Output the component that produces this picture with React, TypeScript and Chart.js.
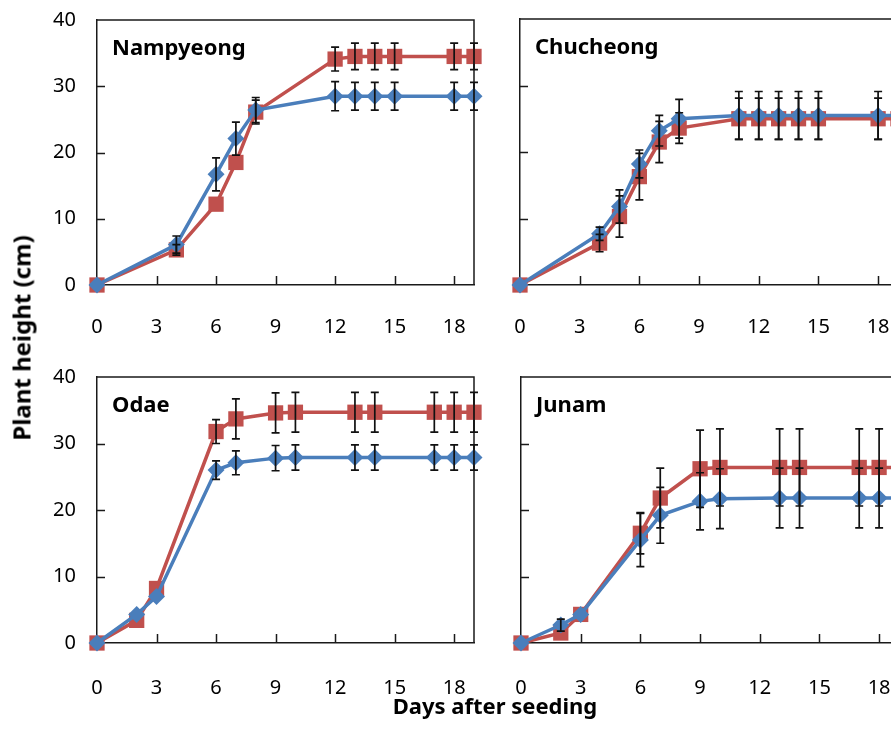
import React, { useEffect, useRef } from "react";
import { Chart, registerables } from "chart.js";

Chart.register(...registerables);

// ---- Data ----
const titles = ["Nampyeong", "Chucheong", "Odae", "Junam"];
const xTickValues = [0, 3, 6, 9, 12, 15, 18];
const yTickValues = [0, 10, 20, 30, 40];

const nampDays = [0, 4, 6, 7, 8, 12, 13, 14, 15, 18, 19];
const nampBlue = [0, 6.1, 16.7, 22.1, 26.4, 28.5, 28.5, 28.5, 28.5, 28.5, 28.5];
const nampBlueErr = [0, 1.3, 2.5, 2.5, 1.9, 2.2, 2.1, 2.1, 2.1, 2.1, 2.1];
const nampRed = [0, 5.3, 12.2, 18.5, 26.1, 34.1, 34.5, 34.5, 34.5, 34.5, 34.5];
const nampRedErr = [0, 0.8, 0, 0, 1.8, 1.8, 2.0, 2.0, 2.0, 2.0, 2.0];

const chuDays = [0, 4, 5, 6, 7, 8, 11, 12, 13, 14, 15, 18, 19];
const chuBlue = [0, 7.7, 11.8, 18.2, 23.2, 25.0, 25.5, 25.5, 25.5, 25.5, 25.5, 25.5, 25.5];
const chuBlueErr = [0, 1.0, 2.5, 2.1, 2.3, 2.9, 3.6, 3.6, 3.6, 3.6, 3.6, 3.6, 3.6];
const chuRed = [0, 6.3, 10.3, 16.3, 21.5, 23.6, 25.0, 25.0, 25.0, 25.0, 25.0, 25.0, 25.0];
const chuRedErr = [0, 1.3, 3.1, 3.5, 3.1, 2.3, 3.1, 3.1, 3.1, 3.1, 3.1, 3.1, 3.1];

const odaeDays = [0, 2, 3, 6, 7, 9, 10, 13, 14, 17, 18, 19];
const odaeBlue = [0, 4.3, 7.0, 26.0, 27.1, 27.8, 27.9, 27.9, 27.9, 27.9, 27.9, 27.9];
const odaeBlueErr = [0, 0, 0, 1.4, 1.8, 1.9, 1.9, 1.9, 1.9, 1.9, 1.9, 1.9];
const odaeRed = [0, 3.4, 8.2, 31.8, 33.7, 34.6, 34.7, 34.7, 34.7, 34.7, 34.7, 34.7];
const odaeRedErr = [0, 0, 0, 1.8, 3.0, 3.0, 3.0, 3.0, 3.0, 3.0, 3.0, 3.0];

const junamDays = [0, 2, 3, 6, 7, 9, 10, 13, 14, 17, 18, 19];
const junamBlue = [0, 2.7, 4.3, 15.5, 19.2, 21.3, 21.7, 21.8, 21.8, 21.8, 21.8, 21.8];
const junamBlueErr = [0, 0.9, 0, 4.0, 4.2, 4.3, 4.5, 4.5, 4.5, 4.5, 4.5, 4.5];
const junamRed = [0, 1.5, 4.3, 16.5, 21.8, 26.2, 26.4, 26.4, 26.4, 26.4, 26.4, 26.4];
const junamRedErr = [0, 0, 0, 3.1, 4.5, 5.8, 5.8, 5.8, 5.8, 5.8, 5.8, 5.8];

const yAxisTitle = "Plant height (cm)";
const xAxisTitle = "Days after seeding";

const BLUE = "#4A7EBB";
const RED = "#C0504D";
const FONT = "'Noto Sans', 'Open Sans', sans-serif";

type Panel = {
  title: string;
  days: number[];
  blue: number[];
  blueErr: number[];
  red: number[];
  redErr: number[];
  left: number;
  top: number;
  width: number;
  height: number;
  yW: number;
  xH: number;
  padTop: number;
  padRight: number;
  tickPad: number;
  showYLabels: boolean;
};

const panels: Panel[] = [
  { title: titles[0], days: nampDays, blue: nampBlue, blueErr: nampBlueErr, red: nampRed, redErr: nampRedErr,
    left: 0, top: 0, width: 490, height: 350, yW: 97, xH: 65, padTop: 20, padRight: 16, tickPad: 30, showYLabels: true },
  { title: titles[1], days: chuDays, blue: chuBlue, blueErr: chuBlueErr, red: chuRed, redErr: chuRedErr,
    left: 490, top: 0, width: 424, height: 350, yW: 30, xH: 65, padTop: 19, padRight: 16, tickPad: 30, showYLabels: false },
  { title: titles[2], days: odaeDays, blue: odaeBlue, blueErr: odaeBlueErr, red: odaeRed, redErr: odaeRedErr,
    left: 0, top: 360, width: 490, height: 350, yW: 97, xH: 67, padTop: 17, padRight: 16, tickPad: 33, showYLabels: true },
  { title: titles[3], days: junamDays, blue: junamBlue, blueErr: junamBlueErr, red: junamRed, redErr: junamRedErr,
    left: 490, top: 360, width: 425, height: 350, yW: 31, xH: 67, padTop: 17, padRight: 16, tickPad: 33, showYLabels: false },
];

const decorPlugin = {
  id: "decor",
  beforeDatasetsDraw(chart: any) {
    const { ctx, chartArea: a, scales } = chart;
    const x = scales.x;
    const y = scales.y;
    ctx.save();
    ctx.strokeStyle = "#1a1a1a";
    ctx.lineWidth = 1.5;
    ctx.beginPath();
    ctx.moveTo(a.left, a.top);
    ctx.lineTo(a.right, a.top);
    ctx.lineTo(a.right, a.bottom);
    ctx.stroke();
    ctx.beginPath();
    yTickValues.forEach((v) => {
      if (v === 0 || v === 40) return;
      const py = Math.round(y.getPixelForValue(v)) + 0.5;
      ctx.moveTo(a.left, py);
      ctx.lineTo(a.left + 8, py);
    });
    xTickValues.forEach((v) => {
      if (v === 0) return;
      const px = Math.round(x.getPixelForValue(v)) + 0.5;
      ctx.moveTo(px, a.bottom);
      ctx.lineTo(px, a.bottom - 9);
    });
    ctx.stroke();
    const t = chart.options.plugins.decor.title;
    ctx.fillStyle = "#000";
    ctx.font = `bold 22px ${FONT}`;
    ctx.textBaseline = "alphabetic";
    ctx.textAlign = "left";
    ctx.fillText(t, a.left + 15, a.top + 35);
    ctx.restore();
  },
  afterDatasetsDraw(chart: any) {
    const { ctx, scales } = chart;
    const x = scales.x;
    const y = scales.y;
    ctx.save();
    ctx.strokeStyle = "#111";
    ctx.lineWidth = 1.7;
    chart.data.datasets.forEach((ds: any) => {
      const errs: number[] = ds.errors || [];
      ds.data.forEach((p: any, i: number) => {
        const e = errs[i];
        if (!e) return;
        const px = x.getPixelForValue(p.x);
        const yt = y.getPixelForValue(p.y + e);
        const yb = y.getPixelForValue(p.y - e);
        ctx.beginPath();
        ctx.moveTo(px, yt);
        ctx.lineTo(px, yb);
        ctx.moveTo(px - 4, yt);
        ctx.lineTo(px + 4, yt);
        ctx.moveTo(px - 4, yb);
        ctx.lineTo(px + 4, yb);
        ctx.stroke();
      });
    });
    ctx.restore();
  },
};

function zeroPad(s: any) {
  s.paddingTop = 0;
  s.paddingBottom = 0;
  s.paddingLeft = 0;
  s.paddingRight = 0;
}

function PanelChart({ p }: { p: Panel }) {
  const ref = useRef<HTMLCanvasElement>(null);
  useEffect(() => {
    if (!ref.current) return;
    const chart = new Chart(ref.current, {
      type: "line",
      data: {
        datasets: [
          {
            data: p.days.map((d, i) => ({ x: d, y: p.blue[i] })),
            errors: p.blueErr,
            borderColor: BLUE,
            backgroundColor: BLUE,
            borderWidth: 3.5,
            pointStyle: "rectRot",
            pointRadius: 8.5,
            pointBorderWidth: 0,
            clip: false,
          } as any,
          {
            data: p.days.map((d, i) => ({ x: d, y: p.red[i] })),
            errors: p.redErr,
            borderColor: RED,
            backgroundColor: RED,
            borderWidth: 3.5,
            pointStyle: "rect",
            pointRadius: 10.8,
            pointBorderWidth: 0,
            clip: false,
          } as any,
        ],
      },
      options: {
        animation: false,
        responsive: false,
        events: [],
        layout: { padding: { top: p.padTop, right: p.padRight, left: 0, bottom: 0 } },
        plugins: {
          legend: { display: false },
          tooltip: { enabled: false },
          decor: { title: p.title },
        } as any,
        scales: {
          x: {
            type: "linear",
            min: 0,
            max: 19,
            afterBuildTicks: (s: any) => {
              s.ticks = xTickValues.map((v) => ({ value: v }));
            },
            afterFit: (s: any) => {
              s.height = p.xH;
              zeroPad(s);
            },
            grid: { display: false, drawTicks: false },
            border: { display: true, color: "#1a1a1a", width: 1.5 },
            ticks: {
              padding: p.tickPad,
              color: "#000",
              font: { size: 20, family: FONT },
              maxRotation: 0,
              autoSkip: false,
            },
          },
          y: {
            type: "linear",
            min: 0,
            max: 40,
            afterBuildTicks: (s: any) => {
              s.ticks = yTickValues.map((v) => ({ value: v }));
            },
            afterFit: (s: any) => {
              s.width = p.yW;
              zeroPad(s);
            },
            grid: { display: false, drawTicks: false },
            border: { display: true, color: "#1a1a1a", width: 1.5 },
            ticks: {
              display: p.showYLabels,
              padding: 21,
              color: "#000",
              font: { size: 20, family: FONT },
            },
          },
        },
      } as any,
      plugins: [decorPlugin as any],
    });
    return () => chart.destroy();
  }, [p]);
  return (
    <canvas
      ref={ref}
      width={p.width}
      height={p.height}
      style={{ position: "absolute", left: p.left, top: p.top, width: p.width, height: p.height }}
    />
  );
}

export default function App() {
  return (
    <div
      style={{
        position: "absolute",
        left: 0,
        top: 0,
        width: 891,
        height: 749,
        overflow: "hidden",
        background: "#fff",
        fontFamily: FONT,
      }}
    >
      {panels.map((p) => (
        <PanelChart key={p.title} p={p} />
      ))}
      <div
        style={{
          position: "absolute",
          left: 21,
          top: 338,
          transform: "translate(-50%, -50%) rotate(-90deg)",
          whiteSpace: "nowrap",
          fontWeight: "bold",
          fontSize: 24,
          color: "#000",
        }}
      >
        {yAxisTitle}
      </div>
      <div
        style={{
          position: "absolute",
          left: 495,
          top: 705,
          transform: "translate(-50%, -50%)",
          whiteSpace: "nowrap",
          fontWeight: "bold",
          fontSize: 22,
          color: "#000",
        }}
      >
        {xAxisTitle}
      </div>
    </div>
  );
}
